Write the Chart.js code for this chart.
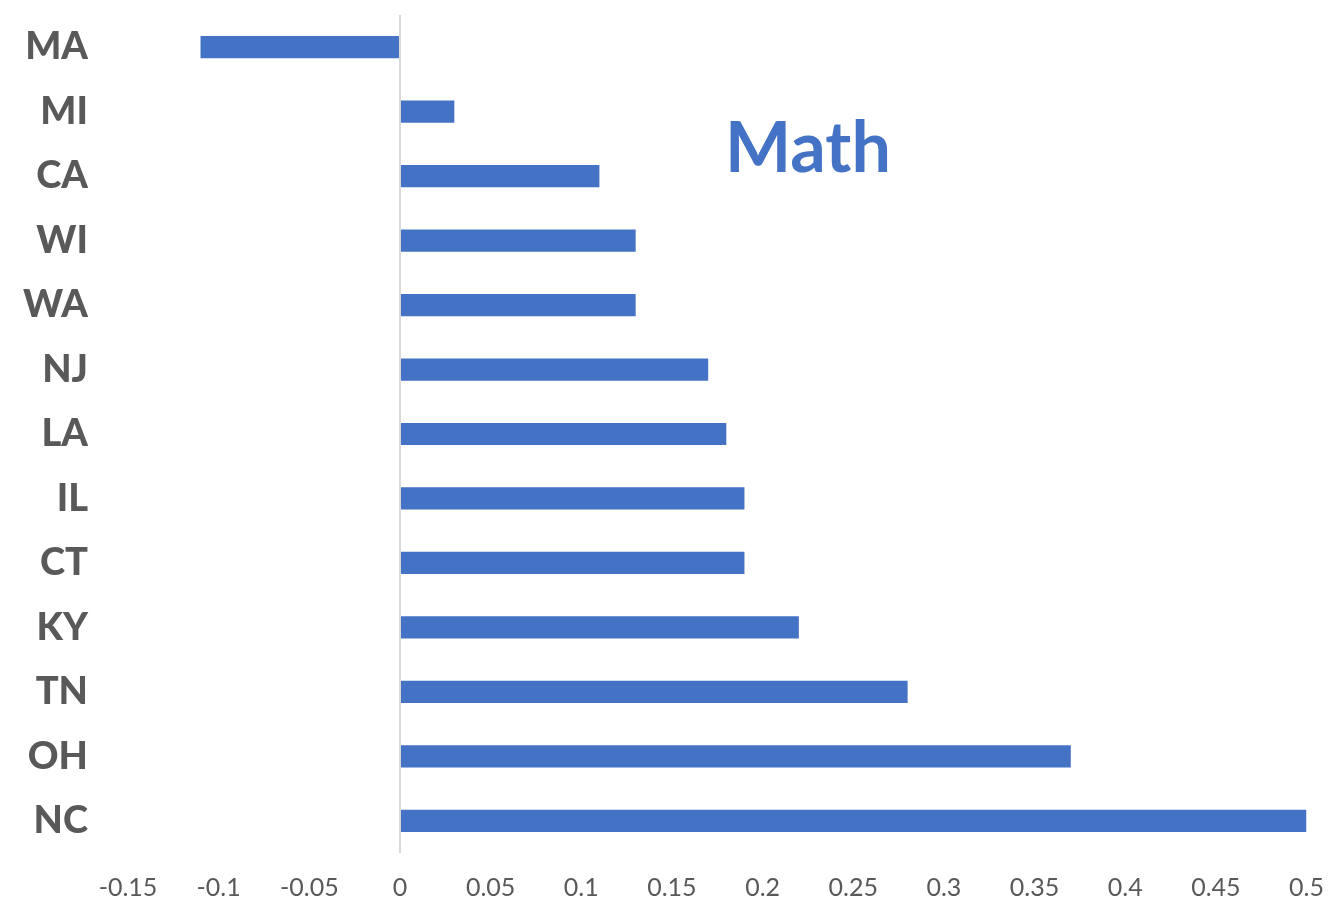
<!DOCTYPE html>
<html>
<head>
<meta charset="utf-8">
<script src="https://cdn.jsdelivr.net/npm/chart.js@4/dist/chart.umd.min.js"></script>
<style>
html,body{margin:0;padding:0;background:#fff;}
#wrap{position:relative;width:1331px;height:908px;}
</style>
</head>
<body>
<div id="wrap"><canvas id="c" width="1331" height="908"></canvas></div>
<script>
// states and their math gains
const states=["MA","MI","CA","WI","WA","NJ","LA","IL","CT","KY","TN","OH","NC"];
const mathGain=[-0.11,0.03,0.11,0.13,0.13,0.17,0.18,0.19,0.19,0.22,0.28,0.37,0.5];
const xMin=-0.15, xMax=0.5, xStep=0.05;
const chartTitle="Math";

const BLUE="#4472C4", GREY="#595959";

// big title inside the plot
const titleInside={
  id:"titleInside",
  afterDraw(chart){
    const {ctx,chartArea:a}=chart;
    ctx.save();
    ctx.font="bold 70px Lato";
    ctx.fillStyle=BLUE;
    ctx.textAlign="center";
    ctx.textBaseline="alphabetic";
    ctx.fillText(chartTitle,a.left+(a.right-a.left)*0.577,a.top+157);
    ctx.restore();
  }
};

new Chart(document.getElementById("c"),{
  type:"bar",
  data:{labels:states,datasets:[{data:mathGain,backgroundColor:BLUE,borderWidth:0,
    barPercentage:0.345,categoryPercentage:1}]},
  options:{
    indexAxis:"y",responsive:false,animation:false,
    layout:{padding:{top:15,right:24.5,left:0,bottom:0}},
    plugins:{legend:{display:false},tooltip:{enabled:false}},
    scales:{
      x:{min:xMin,max:xMax,
        ticks:{stepSize:xStep,color:GREY,font:{family:"Lato",size:25},padding:20,
          callback:v=>+v.toFixed(2)+""},
        grid:{drawTicks:false,lineWidth:2,color:c=>c.tick&&Math.abs(c.tick.value)<1e-9?"#d9d9d9":"rgba(0,0,0,0)"},
        border:{display:false},
        afterFit(s){s.height=55;s.paddingLeft=0;s.paddingRight=0;}
      },
      y:{ticks:{color:GREY,font:{family:"Lato",size:38,weight:"900"},padding:40},
        grid:{display:false,drawTicks:false},
        border:{display:false},
        afterFit(s){s.width=128;s.paddingTop=0;s.paddingBottom=0;}
      }
    }
  },
  plugins:[titleInside]
});
</script>
</body>
</html>
